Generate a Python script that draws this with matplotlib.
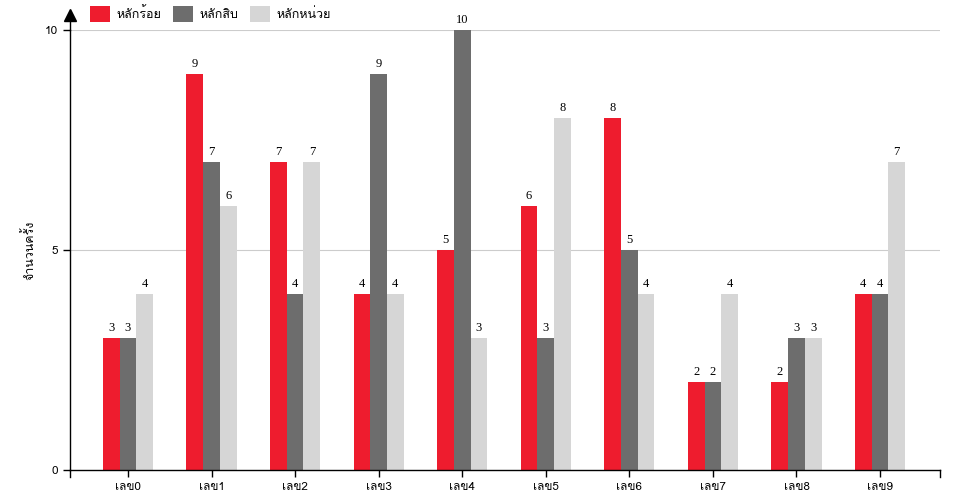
import matplotlib
matplotlib.use('Agg')
import matplotlib.pyplot as plt
from matplotlib import font_manager
from matplotlib.ft2font import FT2Font
import numpy as np

categories = ['เลข0', 'เลข1', 'เลข2', 'เลข3', 'เลข4', 'เลข5', 'เลข6', 'เลข7', 'เลข8', 'เลข9']
series_names = ['หลักร้อย', 'หลักสิบ', 'หลักหน่วย']
hundreds = [3, 9, 7, 4, 5, 6, 8, 2, 2, 4]
tens = [3, 7, 4, 9, 10, 3, 5, 2, 3, 4]
units = [4, 6, 7, 4, 3, 8, 4, 4, 3, 7]
colors = ['#ee1c2e', '#6d6d6d', '#d6d6d6']


# find an installed font that has Thai glyphs
def find_thai_font():
    for f in font_manager.fontManager.ttflist:
        try:
            if 0x0E01 in FT2Font(f.fname).get_charmap():
                return f.name
        except Exception:
            pass
    return None

thai = find_thai_font()
fams = ([thai] if thai else []) + ['DejaVu Sans']
plt.rcParams['font.family'] = fams

fig = plt.figure(figsize=(9.6, 5), dpi=100)
ax = fig.add_axes([70 / 960, 30 / 500, 870 / 960, 440 / 500])

x = np.arange(len(categories))
w = 0.2
for i, vals in enumerate([hundreds, tens, units]):
    bars = ax.bar(x + (i - 1) * w, vals, w, color=colors[i], label=series_names[i], zorder=2)
    for b, v in zip(bars, vals):
        ax.text(b.get_x() + b.get_width() / 2, v + 0.1, str(v), ha='center', va='bottom',
                fontsize=9, family='Liberation Serif')

ax.set_xlim(-0.694, 9.718)
ax.set_ylim(0, 10)
ax.set_yticks([0, 5, 10])
ax.set_xticks(x)
ax.set_xticklabels(categories, fontsize=8.5)
ax.tick_params(axis='y', labelsize=8.5, length=5, width=1)
ax.tick_params(axis='x', length=5, width=1)
for v in [5, 10]:
    ax.axhline(v, color='#cccccc', lw=0.8, zorder=1)

for s in ['top', 'right']:
    ax.spines[s].set_visible(False)
ax.spines['left'].set_linewidth(1)
ax.spines['bottom'].set_linewidth(1)

# outer ticks at axis ends
ax.plot([0, 0], [0, -0.015], transform=ax.transAxes, color='black', lw=1, clip_on=False)
ax.plot([1, 1], [0, -0.015], transform=ax.transAxes, color='black', lw=1, clip_on=False)

# arrow on top of y axis
ax.plot([0, 0], [1, 1.03], transform=ax.transAxes, color='black', lw=1, clip_on=False)
ax.plot([0], [1.035], transform=ax.transAxes, marker='^', color='black', markersize=8, clip_on=False)

ax.set_ylabel('จำนวนครั้ง', fontsize=9, labelpad=6)

ax.legend(loc='upper left', bbox_to_anchor=(88 / 960, 1 - 4 / 500), bbox_transform=fig.transFigure,
          ncol=3, frameon=False, fontsize=9, borderpad=0.15,
          handlelength=1.6, handleheight=1.6, columnspacing=0.9, handletextpad=0.55, borderaxespad=0)

plt.savefig('out.png', dpi=100)
